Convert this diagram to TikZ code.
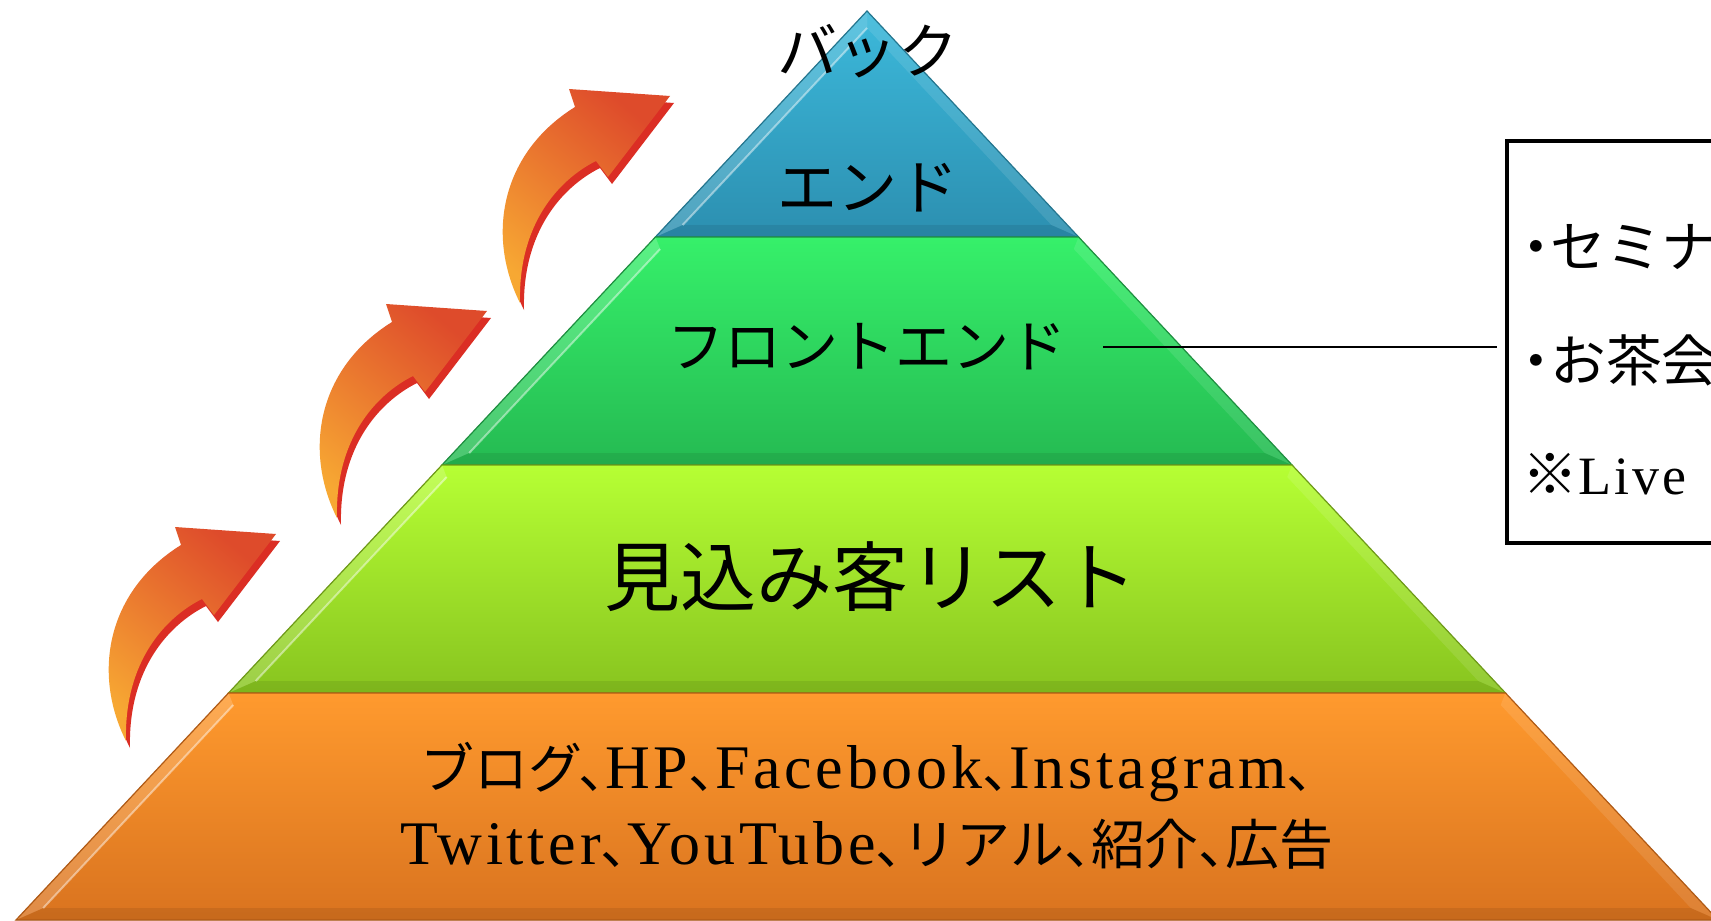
\documentclass[tikz,border=0pt]{standalone}
\usepackage{fontspec}
\setmainfont{Liberation Serif}[LetterSpace=6]
\newfontfamily\jp{Noto Sans CJK JP}[RawFeature=+halt, Scale=0.87]
\definecolor{blueTop}{HTML}{3CB9DB}
\definecolor{blueBot}{HTML}{2C8FB0}
\definecolor{blueEdge}{HTML}{24768F}
\definecolor{greenTop}{HTML}{36F06A}
\definecolor{greenBot}{HTML}{25BA52}
\definecolor{greenEdge}{HTML}{1E8F40}
\definecolor{limeTop}{HTML}{B6FF34}
\definecolor{limeBot}{HTML}{88C41F}
\definecolor{limeEdge}{HTML}{6E9A18}
\definecolor{orangeTop}{HTML}{FF9A2E}
\definecolor{orangeBot}{HTML}{D9731F}
\definecolor{orangeEdge}{HTML}{B05A15}
\definecolor{arrowLight}{HTML}{F7A833}
\definecolor{arrowDark}{HTML}{DE4B2B}
\definecolor{arrowRed}{HTML}{DB2E24}

\tikzset{
  arrowface/.style={bottom color=arrowLight, top color=arrowDark, shading angle=-40},
  arrowside/.style={fill=arrowRed},
  risearrow/.pic={
    \foreach \dx/\dy/\look in {4/7/arrowside, 0/0/arrowface}
      \path[\look, shift={(\dx,\dy)}] (0,0) .. controls (-34,-68) and (-19,-150) .. (55,-196)
        -- (49,-214) -- (150,-207) -- (88,-126) -- (76,-142)
        .. controls (38,-123) and (-2,-78) .. (0,0) -- cycle;
  },
  tier/.style={align=center, text=black, inner sep=0pt},
  notebox/.style={draw=black, line width=2pt, minimum width=160pt, minimum height=201pt, inner sep=0pt},
  noteline/.style={anchor=west, inner sep=0pt, font=\fontsize{32}{36}\selectfont},
  link/.style={line width=1.2pt, shorten <=18pt, shorten >=4pt}
}

\begin{document}
\begin{tikzpicture}[x=0.5pt, y=-0.5pt]
    \fill[white] (0,0) rectangle (1711,920);
    \useasboundingbox (0,0) rectangle (1711,920);

    % pyramid tiers, top to bottom
    \foreach \ya/\yb/\ti/\ct/\cb/\ce in {11/237/17/blueTop/blueBot/blueEdge,
        237/465/12/greenTop/greenBot/greenEdge, 465/693/12/limeTop/limeBot/limeEdge,
        693/920/12/orangeTop/orangeBot/orangeEdge}{
        \pgfmathsetmacro\xla{867-0.9362*(\ya-11)}
        \pgfmathsetmacro\xra{867+0.9362*(\ya-11)}
        \pgfmathsetmacro\xlb{867-0.9362*(\yb-11)}
        \pgfmathsetmacro\xrb{867+0.9362*(\yb-11)}
        \pgfmathsetmacro\yia{\ya+\ti}
        \pgfmathsetmacro\yib{\yb-12}
        \pgfmathsetmacro\xlia{867-0.9362*(\yia-11)+16}
        \pgfmathsetmacro\xria{867+0.9362*(\yia-11)-16}
        \pgfmathsetmacro\xlib{867-0.9362*(\yib-11)+16}
        \pgfmathsetmacro\xrib{867+0.9362*(\yib-11)-16}
        \fill[top color=\ct, bottom color=\cb] (\xla,\ya) -- (\xra,\ya) -- (\xrb,\yb) -- (\xlb,\yb) -- cycle;
        \fill[white, opacity=.18] (\xla,\ya) -- (\xlia,\yia) -- (\xlib,\yib) -- (\xlb,\yb) -- cycle;
        \fill[white, opacity=.1] (\xra,\ya) -- (\xria,\yia) -- (\xrib,\yib) -- (\xrb,\yb) -- cycle;
        \fill[black, opacity=.08] (\xlb,\yb) -- (\xlib,\yib) -- (\xrib,\yib) -- (\xrb,\yb) -- cycle;
        \draw[white, opacity=.45, line width=1pt] (\xlib,\yib) -- (\xlia,\yia);
        \draw[\ce, line width=.6pt] (\xla,\ya) -- (\xra,\ya) -- (\xrb,\yb) -- (\xlb,\yb) -- cycle;
    }

    % rising arrows
    \foreach \tx/\ty in {126/741, 337/518, 520/303}
        \pic at (\tx,\ty) {risearrow};

    \node[tier, font=\fontsize{34.5}{68}\selectfont\jp] (back) at (868,118) {バック\\エンド};
    \node[tier, font=\fontsize{32.8}{36}\selectfont\jp] (front) at (867,347) {フロントエンド};
    \node[tier, font=\fontsize{43.7}{48}\selectfont\jp] (lead) at (871,577) {見込み客リスト};
    \node[tier, font=\fontsize{31}{38}\selectfont] (media) at (867,806)
        {{\jp ブログ、}HP{\jp 、}Facebook{\jp 、}Instagram{\jp 、}\\
         Twitter{\jp 、}YouTube{\jp 、リアル、紹介、広告}};

    \node[notebox, anchor=north west] (note) at (1505,139) {};
    \node[noteline] (sem) at (1522,247) {\jp ・セミナー};
    \node[noteline] (tea) at (1522,360) {\jp ・お茶会};
    \node[noteline] (live) at (1522,474) {{\jp ※}{\fontsize{27}{30}\selectfont Live}};

    \draw[link] (front.east) -- (front.east -| note.west);
\end{tikzpicture}
\end{document}
